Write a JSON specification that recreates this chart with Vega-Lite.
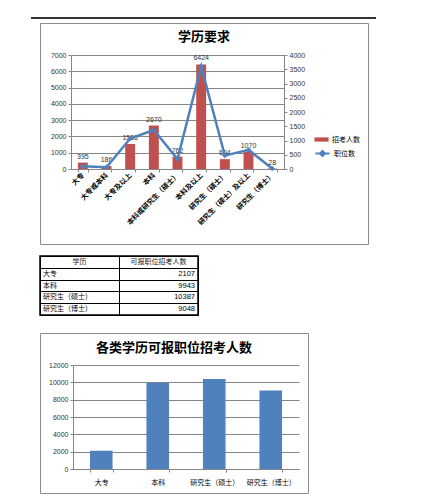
{
  "$schema": "https://vega.github.io/schema/vega-lite/v6.json",
  "background": "white",
  "padding": {"left": 30, "top": 16, "right": 5, "bottom": 5},
  "bounds": "flush",
  "spacing": 4,
  "datasets": {
    "top": [
      {"学历": "大专", "招考人数": 395, "职位数": 100},
      {"学历": "大专或本科", "招考人数": 186, "职位数": 60},
      {"学历": "大专及以上", "招考人数": 1536, "职位数": 1070},
      {"学历": "本科", "招考人数": 2670, "职位数": 1370},
      {"学历": "本科或研究生（硕士）", "招考人数": 762, "职位数": 350},
      {"学历": "本科及以上", "招考人数": 6424, "职位数": 3600},
      {"学历": "研究生（硕士）", "招考人数": 604, "职位数": 470},
      {"学历": "研究生（硕士）及以上", "招考人数": 1070, "职位数": 670},
      {"学历": "研究生（博士）", "招考人数": 28, "职位数": 15}
    ],
    "edu": [
      {"学历": "大专", "人数": 2107},
      {"学历": "本科", "人数": 9943},
      {"学历": "研究生（硕士）", "人数": 10387},
      {"学历": "研究生（博士）", "人数": 9048}
    ]
  },
  "config": {
    "font": "Noto Sans CJK SC",
    "view": {"stroke": "#8c8c8c", "strokeWidth": 1},
    "axis": {
      "labelFont": "Liberation Sans",
      "labelFontSize": 7,
      "labelColor": "#333",
      "labelOverlap": false,
      "domainColor": "#868686",
      "tickColor": "#868686",
      "gridColor": "#868686",
      "gridOpacity": 1,
      "tickSize": 3,
      "title": null
    },
    "title": {"font": "Noto Sans CJK SC", "fontSize": 13, "fontWeight": "bold", "color": "#000", "anchor": "middle", "baseline": "bottom"}
  },
  "vconcat": [
    {
      "width": 345,
      "height": 2,
      "view": {"fill": "#333", "stroke": null},
      "data": {"values": [{}]},
      "mark": {"type": "rule", "opacity": 0},
      "encoding": {}
    },
    {
      "bounds": "flush",
      "spacing": 8,
      "hconcat": [
        {
          "width": 1,
          "height": 1,
          "view": {"stroke": null},
          "data": {"values": [{}]},
          "mark": {"type": "rule", "opacity": 0},
          "encoding": {}
        },
        {
          "bounds": "flush",
          "spacing": 12,
          "vconcat": [
            {
              "width": 328,
              "height": 221,
              "data": {"name": "top"},
              "title": {"text": "学历要求", "offset": -21},
              "layer": [
                {
                  "mark": {"type": "bar"},
                  "encoding": {
                    "x": {
                      "field": "学历", "type": "nominal", "sort": null,
                      "scale": {"range": [31, 244], "paddingInner": 0.58, "paddingOuter": 0.29},
                      "axis": {"offset": -75, "labelAngle": -45, "labelAlign": "right", "labelBaseline": "middle",
                               "labelFont": "Noto Sans CJK SC", "labelFontWeight": "bold", "labelFontSize": 7,
                               "labelColor": "#000", "tickBand": "extent", "labelPadding": 2}
                    },
                    "y": {
                      "field": "招考人数", "type": "quantitative",
                      "scale": {"domain": [0, 7000], "range": [146, 32], "nice": false},
                      "axis": {"offset": -31, "tickCount": 7, "labelOverlap": false, "format": "d", "grid": true, "labelPadding": 2}
                    },
                    "color": {
                      "datum": "招考人数",
                      "scale": {"range": ["#C0504D"]},
                      "legend": {"orient": "none", "legendX": 274, "legendY": 109, "title": null, "padding": 0,
                                 "symbolType": "M-1,-0.3H1V0.3H-1Z", "symbolSize": 200, "symbolStrokeWidth": 0,
                                 "labelFontSize": 7, "labelFont": "Noto Sans CJK SC", "labelColor": "#000", "labelOffset": 3}
                    }
                  }
                },
                {
                  "mark": {"type": "text", "dy": -3, "baseline": "bottom", "fontSize": 7, "font": "Liberation Sans", "color": "#333"},
                  "encoding": {
                    "x": {"field": "学历", "type": "nominal", "sort": null},
                    "y": {
                      "field": "招考人数", "type": "quantitative",
                      "scale": {"domain": [0, 7000], "range": [146, 32], "nice": false},
                      "axis": null
                    },
                    "text": {"field": "招考人数"}
                  }
                },
                {
                  "mark": {"type": "line", "strokeWidth": 2.5, "point": {"shape": "diamond", "filled": true, "size": 30}},
                  "encoding": {
                    "x": {"field": "学历", "type": "nominal", "sort": null},
                    "y": {
                      "field": "职位数", "type": "quantitative",
                      "scale": {"domain": [0, 4000], "range": [146, 32], "nice": false},
                      "axis": {"orient": "right", "offset": -84, "tickCount": 8, "labelOverlap": false, "format": "d", "grid": false, "labelPadding": 2}
                    },
                    "color": {
                      "datum": "职位数",
                      "scale": {"range": ["#4F81BD"]},
                      "legend": {"orient": "none", "legendX": 274, "legendY": 122, "title": null, "padding": 0,
                                 "symbolType": "M-1,0H1M0,-0.35L0.35,0L0,0.35L-0.35,0Z", "symbolSize": 200, "symbolStrokeWidth": 2,
                                 "symbolFillColor": "#4F81BD",
                                 "labelFontSize": 7, "labelFont": "Noto Sans CJK SC", "labelColor": "#000", "labelOffset": 3}
                    }
                  }
                }
              ],
              "resolve": {"scale": {"y": "independent", "color": "independent"}}
            },
            {
              "bounds": "flush",
              "spacing": 18,
              "vconcat": [
                {
                  "width": 158,
                  "height": 59,
                  "view": {"stroke": "#000", "strokeWidth": 1.5},
                  "layer": [
                    {
                      "data": {"values": [{"列": "学历"}, {"列": "可报职位招考人数"}]},
                      "mark": {"type": "text", "fontSize": 7, "color": "#222"},
                      "encoding": {
                        "x": {
                          "field": "列", "type": "nominal",
                          "scale": {"domain": ["学历", "可报职位招考人数"], "paddingInner": 0, "paddingOuter": 0},
                          "axis": {"orient": "top", "labels": false, "ticks": false, "domain": false, "grid": true, "gridColor": "#000", "tickBand": "extent"}
                        },
                        "y": {
                          "datum": "学历", "type": "nominal",
                          "scale": {"domain": ["学历", "大专", "本科", "研究生（硕士）", "研究生（博士）"], "paddingInner": 0, "paddingOuter": 0},
                          "axis": {"labels": false, "ticks": false, "domain": false, "grid": true, "gridColor": "#000", "tickBand": "extent"}
                        },
                        "text": {"field": "列"}
                      }
                    },
                    {
                      "data": {"name": "edu"},
                      "mark": {"type": "text", "align": "left", "dx": 3, "fontSize": 7, "color": "#000"},
                      "encoding": {
                        "x": {"datum": "学历", "type": "nominal", "bandPosition": 0},
                        "y": {"field": "学历", "type": "nominal"},
                        "text": {"field": "学历"}
                      }
                    },
                    {
                      "data": {"name": "edu"},
                      "mark": {"type": "text", "align": "right", "dx": -3, "fontSize": 7.5, "font": "Liberation Sans", "color": "#000"},
                      "encoding": {
                        "x": {"datum": "可报职位招考人数", "type": "nominal", "bandPosition": 1},
                        "y": {"field": "学历", "type": "nominal"},
                        "text": {"field": "人数"}
                      }
                    }
                  ]
                },
                {
                  "width": 268,
                  "height": 160,
                  "data": {"name": "edu"},
                  "title": {"text": "各类学历可报职位招考人数", "offset": -22},
                  "mark": {"type": "bar", "color": "#4F81BD"},
                  "encoding": {
                    "x": {
                      "field": "学历", "type": "nominal", "sort": null,
                      "scale": {"range": [33, 259], "paddingInner": 0.6, "paddingOuter": 0.3},
                      "axis": {"offset": -24, "labelAngle": 0, "labelFont": "Noto Sans CJK SC", "labelFontSize": 7,
                               "labelColor": "#000", "tickBand": "extent", "labelPadding": 6}
                    },
                    "y": {
                      "field": "人数", "type": "quantitative",
                      "scale": {"domain": [0, 12000], "range": [136, 32], "nice": false},
                      "axis": {"offset": -33, "values": [0, 2000, 4000, 6000, 8000, 10000, 12000], "format": "d", "grid": true, "labelPadding": 2}
                    }
                  }
                }
              ]
            }
          ]
        }
      ]
    }
  ]
}
